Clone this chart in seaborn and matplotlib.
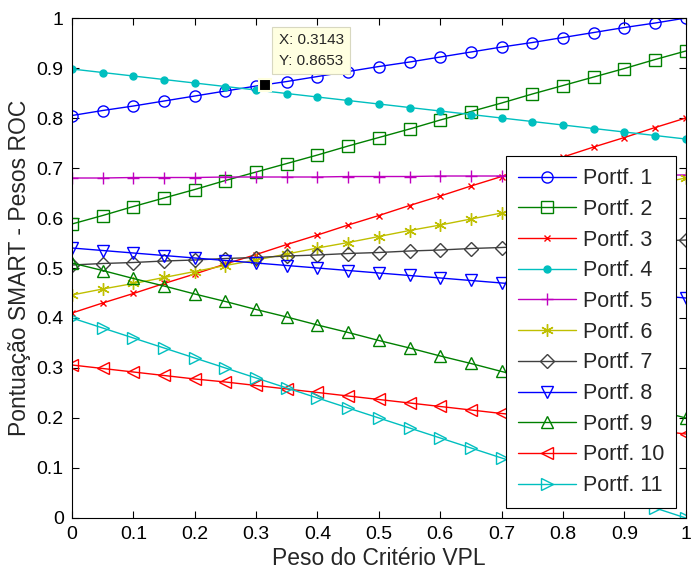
import numpy as np
import pandas as pd
import matplotlib
matplotlib.use('Agg')
import matplotlib.pyplot as plt
import seaborn as sns

# peso do criterio VPL (eixo x)
peso_vpl = [0.00, 0.05, 0.10, 0.15, 0.20, 0.25, 0.30, 0.35, 0.40, 0.45, 0.50,
            0.55, 0.60, 0.65, 0.70, 0.75, 0.80, 0.85, 0.90, 0.95, 1.00]

portf_1 = [0.805, 0.815, 0.824, 0.834, 0.844, 0.854, 0.864, 0.873, 0.883, 0.893, 0.903,
           0.912, 0.922, 0.932, 0.942, 0.951, 0.961, 0.971, 0.981, 0.990, 1.000]
portf_2 = [0.588, 0.605, 0.623, 0.640, 0.657, 0.675, 0.692, 0.709, 0.726, 0.744, 0.761,
           0.778, 0.796, 0.813, 0.830, 0.848, 0.865, 0.882, 0.899, 0.917, 0.934]
portf_3 = [0.410, 0.430, 0.449, 0.469, 0.488, 0.508, 0.527, 0.547, 0.566, 0.586, 0.605,
           0.625, 0.644, 0.664, 0.683, 0.703, 0.722, 0.742, 0.761, 0.781, 0.800]
portf_4 = [0.898, 0.891, 0.884, 0.877, 0.870, 0.863, 0.856, 0.849, 0.842, 0.835, 0.828,
           0.821, 0.814, 0.807, 0.800, 0.793, 0.786, 0.779, 0.772, 0.765, 0.758]
portf_5 = [0.680, 0.680, 0.681, 0.681, 0.681, 0.682, 0.682, 0.682, 0.682, 0.683, 0.683,
           0.683, 0.684, 0.684, 0.684, 0.685, 0.685, 0.685, 0.685, 0.686, 0.686]
portf_6 = [0.446, 0.458, 0.469, 0.481, 0.493, 0.505, 0.516, 0.528, 0.540, 0.551, 0.563,
           0.575, 0.586, 0.598, 0.610, 0.622, 0.633, 0.645, 0.657, 0.668, 0.680]
portf_7 = [0.506, 0.509, 0.511, 0.514, 0.516, 0.519, 0.521, 0.524, 0.526, 0.529, 0.531,
           0.534, 0.536, 0.539, 0.541, 0.544, 0.546, 0.549, 0.551, 0.554, 0.556]
portf_8 = [0.540, 0.535, 0.530, 0.525, 0.520, 0.515, 0.510, 0.505, 0.500, 0.495, 0.490,
           0.485, 0.480, 0.475, 0.470, 0.465, 0.460, 0.455, 0.450, 0.445, 0.440]
portf_9 = [0.510, 0.495, 0.479, 0.464, 0.448, 0.433, 0.417, 0.402, 0.386, 0.371, 0.355,
           0.340, 0.324, 0.309, 0.293, 0.278, 0.262, 0.247, 0.231, 0.216, 0.200]
portf_10 = [0.306, 0.299, 0.292, 0.285, 0.278, 0.272, 0.265, 0.258, 0.251, 0.244, 0.237,
            0.230, 0.223, 0.216, 0.209, 0.203, 0.196, 0.189, 0.182, 0.175, 0.168]
portf_11 = [0.400, 0.380, 0.360, 0.340, 0.320, 0.300, 0.280, 0.260, 0.240, 0.220, 0.200,
            0.180, 0.160, 0.140, 0.120, 0.100, 0.080, 0.060, 0.040, 0.020, 0.000]

series = [portf_1, portf_2, portf_3, portf_4, portf_5, portf_6,
          portf_7, portf_8, portf_9, portf_10, portf_11]
nomes = [f'Portf. {i}' for i in range(1, 12)]

# data tip (MATLAB)
tip_x, tip_y = 0.3143, 0.8653

# estilo MATLAB: cor, marcador, tamanho, preenchido?
cores = ['#0000ff', '#008000', '#ff0000', '#00bfbf', '#bf00bf', '#bfbf00',
         '#404040', '#0000ff', '#008000', '#ff0000', '#00bfbf']
marcadores = ['o', 's', 'x', 'o', '+', (6, 2, 0), 'D', 'v', '^', '<', '>']
tamanhos = [8, 8, 5, 5, 9, 9, 7, 9, 9, 9, 9]
cheios = [False, False, False, True, False, False, False, False, False, False, False]

df = pd.concat([pd.DataFrame({'peso': peso_vpl, 'pontuacao': s, 'portf': n})
                for s, n in zip(series, nomes)], ignore_index=True)

sns.set_style('ticks')
plt.rcParams['font.family'] = ['Liberation Sans', 'DejaVu Sans']

fig = plt.figure(figsize=(6.92, 5.74), dpi=100)
ax = fig.add_axes([0.104, 0.0976, 0.887, 0.871])

for nome, cor, mk, ms, cheio in zip(nomes, cores, marcadores, tamanhos, cheios):
    sub = df[df['portf'] == nome]
    sns.lineplot(data=sub, x='peso', y='pontuacao', ax=ax, color=cor, marker=mk,
                 markersize=ms, markeredgecolor=cor, markeredgewidth=1,
                 markerfacecolor=cor if cheio else 'none', linewidth=1, label=nome)

# marcador e caixa do data tip
ax.plot([tip_x], [tip_y], marker='s', color='black', markersize=9,
        markeredgecolor='#ffffe0', markeredgewidth=1.5, zorder=5)
ax.annotate(f'X: {tip_x}\nY: {tip_y}', xy=(tip_x, tip_y), xytext=(0.3365, 0.9),
            textcoords='data', fontsize=11, linespacing=1.6, va='bottom',
            bbox=dict(boxstyle='square,pad=0.4', fc='#ffffe1', ec='#d8d8c0', lw=0.8))

ax.set_xlim(0, 1)
ax.set_ylim(0, 1)
ax.set_xticks(np.arange(0, 1.01, 0.1))
ax.set_yticks(np.arange(0, 1.01, 0.1))
ax.set_xticklabels(['0', '0.1', '0.2', '0.3', '0.4', '0.5', '0.6', '0.7', '0.8', '0.9', '1'])
ax.set_yticklabels(['0', '0.1', '0.2', '0.3', '0.4', '0.5', '0.6', '0.7', '0.8', '0.9', '1'])
ax.tick_params(direction='in', top=True, right=True, length=5, width=0.8,
               labelsize=14, colors='black', pad=6)
for sp in ax.spines.values():
    sp.set_visible(True)
    sp.set_color('black')
    sp.set_linewidth(0.8)

ax.set_xlabel('Peso do Critério VPL', fontsize=16.5, labelpad=3)
ax.set_ylabel('Pontuação SMART - Pesos ROC', fontsize=16.5, labelpad=4)

leg = ax.legend(loc='lower right', bbox_to_anchor=(0.984, 0.02), fontsize=15.5,
                frameon=True, fancybox=False, edgecolor='black', framealpha=1,
                handlelength=2.7, handletextpad=0.3, labelspacing=0.45, borderpad=0.55,
                borderaxespad=0)
leg.get_frame().set_linewidth(0.8)

fig.savefig('out.png', dpi=100)
